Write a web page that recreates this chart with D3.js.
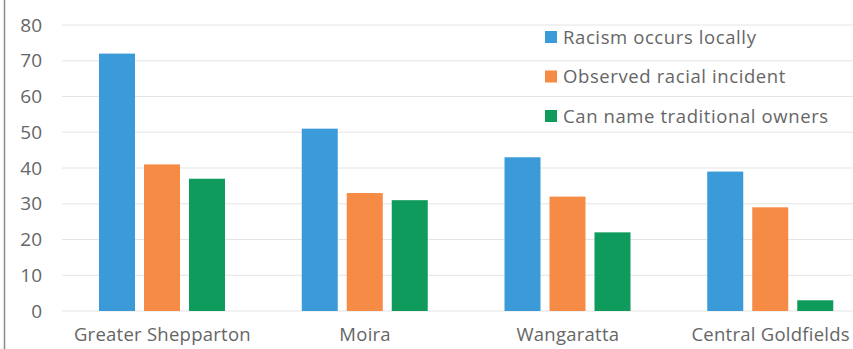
<!DOCTYPE html>
<html>
<head>
<meta charset="utf-8">
<script src="https://cdn.jsdelivr.net/npm/d3@7"></script>
<style>
  body { margin: 0; background: #fff; }
  svg { display: block; font-family: "Open Sans", sans-serif; }
</style>
</head>
<body>
<div id="chart"></div>
<script>
// Data
const regions = ["Greater Shepparton", "Moira", "Wangaratta", "Central Goldfields"];
const seriesNames = ["Racism occurs locally", "Observed racial incident", "Can name traditional owners"];
const racismLocal = [72, 51, 43, 39];
const observedIncident = [41, 33, 32, 29];
const nameOwners = [37, 31, 22, 3];
const yTicks = [0, 10, 20, 30, 40, 50, 60, 70, 80];

const colors = ["#3b9bd9", "#f58b45", "#0f9b5b"];
const series = [racismLocal, observedIncident, nameOwners];

const width = 853, height = 349;
const svg = d3.select("#chart").append("svg")
    .attr("width", width)
    .attr("height", height);

// left border line
svg.append("line")
    .attr("x1", 4.5).attr("x2", 4.5)
    .attr("y1", 0).attr("y2", height)
    .attr("stroke", "#8a8a8a")
    .attr("stroke-width", 1.5);

const y = d3.scaleLinear().domain([0, 80]).range([311, 25]);
const x0 = d3.scaleBand().domain(regions).range([61, 872]).paddingInner(0).paddingOuter(0);
const x1 = d3.scaleBand().domain(d3.range(3)).range([38, 164]).paddingInner(0.2);

// gridlines
svg.append("g").selectAll("line")
    .data(yTicks)
    .enter().append("line")
    .attr("x1", 62).attr("x2", width)
    .attr("y1", d => y(d)).attr("y2", d => y(d))
    .attr("stroke", "#e4e4e4")
    .attr("stroke-width", 1);

// y axis labels
const yAxis = d3.axisLeft(y).tickValues(yTicks).tickSize(0).tickPadding(0);
svg.append("g")
    .attr("transform", "translate(42,0)")
    .call(yAxis)
    .call(g => g.select(".domain").remove())
    .selectAll("text")
    .attr("fill", "#666")
    .style("font-size", "19px")
    .style("font-family", "'Open Sans', sans-serif");

// bars
const groups = svg.append("g").selectAll("g")
    .data(regions)
    .enter().append("g")
    .attr("transform", d => `translate(${x0(d)},0)`);

groups.selectAll("rect")
    .data((d, i) => series.map((s, j) => ({ k: j, v: s[i] })))
    .enter().append("rect")
    .attr("x", d => x1(d.k))
    .attr("width", x1.bandwidth())
    .attr("y", d => y(d.v))
    .attr("height", d => y(0) - y(d.v))
    .attr("fill", d => colors[d.k]);

// x axis labels
const xAxis = d3.axisBottom(x0).tickSize(0).tickPadding(0);
svg.append("g")
    .attr("transform", "translate(0,328)")
    .call(xAxis)
    .call(g => g.select(".domain").remove())
    .selectAll("text")
    .attr("fill", "#666")
    .style("font-size", "18.5px")
    .style("letter-spacing", "0.25px")
    .style("font-family", "'Open Sans', sans-serif");

// legend
const legend = svg.append("g").selectAll("g")
    .data(seriesNames)
    .enter().append("g")
    .attr("transform", (d, i) => `translate(545,${37 + i * 39.5})`);

legend.append("rect")
    .attr("x", 0).attr("y", -6)
    .attr("width", 12).attr("height", 12)
    .attr("fill", (d, i) => colors[i]);

legend.append("text")
    .attr("x", 18)
    .attr("dy", "0.36em")
    .attr("fill", "#666")
    .style("font-size", "18.5px")
    .style("letter-spacing", "0.6px")
    .text(d => d);
</script>
</body>
</html>
